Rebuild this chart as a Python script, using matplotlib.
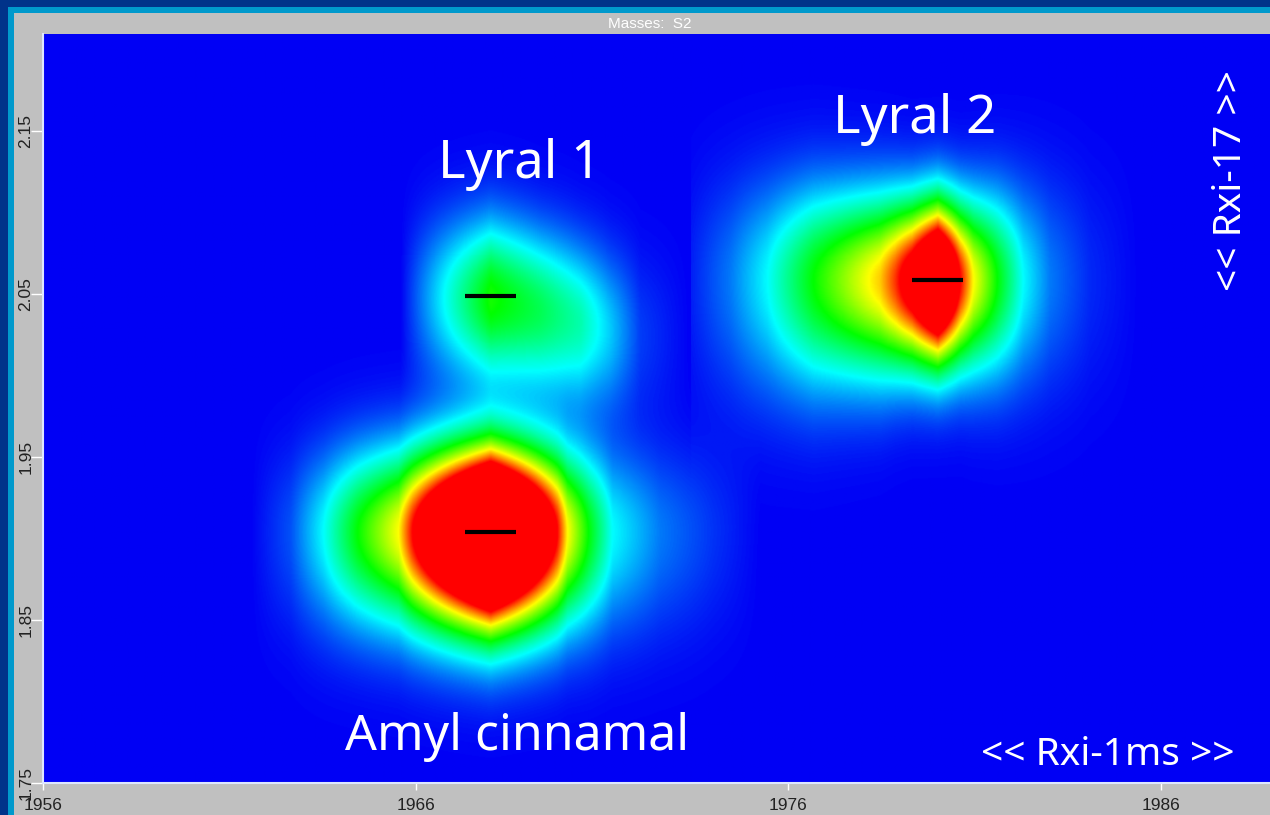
import numpy as np
import matplotlib
matplotlib.use('Agg')
import matplotlib.pyplot as plt
from matplotlib.colors import LinearSegmentedColormap
from matplotlib.patches import Rectangle

# peak apexes (1st dim, 2nd dim)
peak_names = ['Lyral 1', 'Lyral 2', 'Amyl cinnamal']
apex_x = [1968.0, 1980.0, 1968.0]
apex_y = [2.0488, 2.0586, 1.9039]

# intensity read across each peak (modulation slices), colour scale 0..1 (red = 1)
amyl_x = [1961.56, 1962.63, 1963.51, 1964.43, 1965.53, 1965.90, 1968.0,
          1969.79, 1970.06, 1970.62, 1971.27, 1972.55, 1973.98, 1975.24]
amyl_amp = [0.0, 0.08, 0.25, 0.5, 0.75, 1.0, 2.2, 1.0, 0.75, 0.5, 0.25, 0.12, 0.05, 0.0]
amyl_yc = [1.9039] * 14
amyl_sup = [0.0345] * 14
amyl_sdn = [0.040, 0.040, 0.040, 0.039, 0.039, 0.039, 0.039,
            0.039, 0.039, 0.040, 0.041, 0.042, 0.042, 0.042]

lyral1_x = [1965.58, 1966.65, 1968.0, 1969.33, 1970.41, 1971.21, 1972.02, 1973.36]
lyral1_amp = [0.0, 0.23, 0.52, 0.42, 0.33, 0.2, 0.06, 0.0]
lyral1_yc = [2.0475, 2.0475, 2.0475, 2.0402, 2.0328, 2.0279, 2.0249, 2.0249]
lyral1_sup = [0.033] * 8
lyral1_sdn = [0.034] * 8

lyral2_x = [1973.36, 1974.43, 1975.42, 1976.66, 1978.45, 1978.86, 1979.31, 1980.0,
            1980.60, 1980.95, 1981.59, 1982.29, 1983.01, 1984.09, 1985.43]
lyral2_amp = [0.03, 0.12, 0.25, 0.5, 0.8, 0.95, 1.15, 1.6,
              1.0, 0.75, 0.5, 0.25, 0.12, 0.04, 0.0]
lyral2_yc = [2.0586] * 15
lyral2_sup = [0.043, 0.0417, 0.0405, 0.0387, 0.0356, 0.0344, 0.0331, 0.0325,
              0.0331, 0.0344, 0.0368, 0.0393, 0.0417, 0.043, 0.043]
lyral2_sdn = [0.0491, 0.0491, 0.0479, 0.0454, 0.0405, 0.0381, 0.0362, 0.035,
              0.0362, 0.0381, 0.0405, 0.043, 0.0454, 0.0467, 0.0467]

x_ticks = [1956, 1966, 1976, 1986]
y_ticks = [1.75, 1.85, 1.95, 2.05, 2.15]

W, H = 1270, 815
XMIN, XMAX = 1956, 1988.92
YMIN, YMAX = 1.75, 2.2096


def peak_field(xg, yg, kx, kamp, kyc, sup, sdn):
    dy = yg[:, None] - np.asarray(kyc)[None, :]
    s = np.where(dy > 0, np.asarray(sup)[None, :], np.asarray(sdn)[None, :])
    prof = np.asarray(kamp)[None, :] * np.exp(-0.5 * (dy / s) ** 2)
    out = np.zeros((len(yg), len(xg)))
    for i in range(len(yg)):
        out[i] = np.interp(xg, kx, prof[i], left=0, right=0)
    return out


xg = np.linspace(XMIN, XMAX, 1300)
yg = np.linspace(YMIN, YMAX, 800)
field = (peak_field(xg, yg, amyl_x, amyl_amp, amyl_yc, amyl_sup, amyl_sdn)
         + peak_field(xg, yg, lyral1_x, lyral1_amp, lyral1_yc, lyral1_sup, lyral1_sdn)
         + peak_field(xg, yg, lyral2_x, lyral2_amp, lyral2_yc, lyral2_sup, lyral2_sdn))

cmap = LinearSegmentedColormap.from_list('gcxgc', [
    (0.0, '#0000f5'), (0.25, '#00ffff'), (0.5, '#00ff00'),
    (0.75, '#ffff00'), (1.0, '#ff0000')])

fig = plt.figure(figsize=(W / 100, H / 100), dpi=100)
fig.patch.set_facecolor('#00338a')
fig.patches.append(Rectangle((8 / W, 0), 1, (H - 7) / H, transform=fig.transFigure,
                             facecolor='#0099cc', edgecolor='none', zorder=-2))
fig.patches.append(Rectangle((14 / W, 0), 1, (H - 13) / H, transform=fig.transFigure,
                             facecolor='#c0c0c0', edgecolor='none', zorder=-1))

ax = fig.add_axes([42.9 / W, (H - 782.7) / H, (W - 42.9) / W, (782.7 - 34) / H])
ax.imshow(field, extent=(XMIN, XMAX, YMIN, YMAX), origin='lower', aspect='auto',
          cmap=cmap, vmin=0, vmax=1, interpolation='bilinear')
ax.set_xlim(XMIN, XMAX)
ax.set_ylim(YMIN, YMAX)

for x, y in zip(apex_x, apex_y):
    ax.plot([x - 0.68, x + 0.68], [y, y], color='black', lw=3, solid_capstyle='butt')

tick_font = ['Liberation Sans Narrow', 'Liberation Sans', 'DejaVu Sans']
ax.set_xticks(x_ticks)
ax.set_xticklabels([str(t) for t in x_ticks], family=tick_font, fontsize=12.5, color='#222222')
ax.set_yticks(y_ticks)
ax.set_yticklabels(['%.2f' % t for t in y_ticks], family=tick_font, fontsize=12.5,
                   color='#222222', rotation=90, va='center')
ax.tick_params(axis='x', length=5, width=1, color='white', pad=6)
ax.tick_params(axis='y', length=9, width=1, color='white', pad=-2)
for side in ['left', 'bottom']:
    ax.spines[side].set_color('#dde6ff')
    ax.spines[side].set_linewidth(1.5)
for side in ['right', 'top']:
    ax.spines[side].set_visible(False)

fig.text(650 / W, 1 - 24 / H, 'Masses:  S2', color='white', fontsize=11,
         family=tick_font, ha='center', va='center')

label_font = ['Noto Sans', 'DejaVu Sans']
ax.text(1968.80, 2.1212, 'Lyral 1', color='white', fontsize=38, family=label_font,
        ha='center', va='baseline')
ax.text(1979.38, 2.1488, 'Lyral 2', color='white', fontsize=38, family=label_font,
        ha='center', va='baseline')
ax.text(1968.73, 1.7701, 'Amyl cinnamal', color='white', fontsize=36, family=label_font,
        ha='center', va='baseline')
ax.text(1984.58, 1.7609, '<< Rxi-1ms >>', color='white', fontsize=28, family=label_font,
        ha='center', va='baseline')
ax.text(1987.87, 2.1194, '<< Rxi-17 >>', color='white', fontsize=28, family=label_font,
        ha='center', va='center', rotation=90)

fig.savefig('out.png', dpi=100, facecolor=fig.get_facecolor())
